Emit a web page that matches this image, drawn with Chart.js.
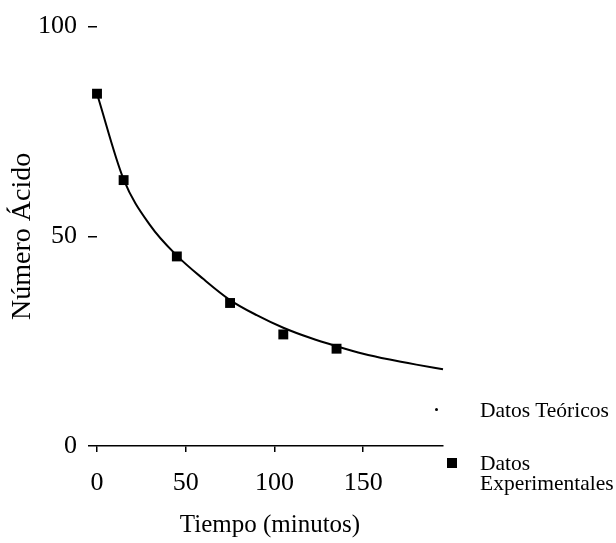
<!DOCTYPE html>
<html>
<head>
<meta charset="utf-8">
<script src="https://cdn.jsdelivr.net/npm/chart.js@4/dist/chart.umd.min.js"></script>
<style>
  html, body { margin: 0; padding: 0; background: #fff; }
  #wrap { position: relative; width: 616px; height: 543px; }
  canvas { position: absolute; left: 0; top: 0; }
  .leg { position: absolute; font-family: "Liberation Serif", "Times New Roman", serif; font-size: 21.5px; color: #000; line-height: 20px; white-space: nowrap; }
  .dot { position: absolute; width: 3px; height: 3px; background: #000; border-radius: 50%; }
  .sq { position: absolute; width: 10px; height: 10px; background: #000; }
</style>
</head>
<body>
<div id="wrap">
  <canvas id="c" width="616" height="543"></canvas>
  <div class="dot" style="left:435px; top:408px;"></div>
  <div class="leg" style="left:480px; top:400px;">Datos Teóricos</div>
  <div class="sq" style="left:447px; top:458px;"></div>
  <div class="leg" style="left:480px; top:453px;">Datos<br>Experimentales</div>
</div>
<script>
const expTime = [0, 15, 45, 75, 105, 135];
const expAcid = [84.0, 63.4, 45.2, 34.1, 26.6, 23.2];

// Theoretical curve
const theoTime = [0, 15, 30, 45, 60, 75, 90, 105, 120, 135, 150, 165, 180, 195];
const theoAcid = [84.0, 63.6, 52.6, 45.4, 39.8, 34.8, 31.2, 28.2, 25.8, 23.8, 22.0, 20.6, 19.4, 18.3];

const xTickValues = [0, 50, 100, 150];
const yTickValues = [0, 50, 100];

const serif = "'Liberation Serif', 'Times New Roman', serif";

new Chart(document.getElementById('c'), {
  type: 'scatter',
  data: {
    datasets: [
      {
        label: 'Datos Teóricos',
        data: theoTime.map((t, i) => ({ x: t, y: theoAcid[i] })),
        showLine: true,
        borderColor: '#000',
        borderWidth: 2,
        pointRadius: 0,
        cubicInterpolationMode: 'monotone',
        clip: false,
        fill: false
      },
      {
        label: 'Datos Experimentales',
        data: expTime.map((t, i) => ({ x: t, y: expAcid[i] })),
        showLine: false,
        pointStyle: 'rect',
        pointRadius: 7,
        backgroundColor: '#000',
        borderColor: '#000',
        borderWidth: 0,
        clip: false
      }
    ]
  },
  options: {
    responsive: false,
    animation: false,
    layout: { padding: { left: 0, right: 173, top: 21, bottom: 0 } },
    plugins: { legend: { display: false }, tooltip: { enabled: false } },
    scales: {
      x: {
        type: 'linear',
        min: 0,
        max: 195,
        afterBuildTicks: (s) => { s.ticks = xTickValues.map(v => ({ value: v })); },
        afterFit: (s) => { s.height = 97; },
        border: { display: true, color: '#000', width: 1.5 },
        grid: { drawOnChartArea: false, drawTicks: true, tickLength: 6, color: '#000', lineWidth: 1.5 },
        ticks: { color: '#000', font: { family: serif, size: 26 }, padding: 16, maxRotation: 0 },
        title: { display: true, text: 'Tiempo (minutos)', color: '#000', font: { family: serif, size: 25 }, padding: { top: 6, bottom: 3 } }
      },
      y: {
        type: 'linear',
        min: 0,
        max: 100,
        afterBuildTicks: (s) => { s.ticks = yTickValues.map(v => ({ value: v })); },
        afterFit: (s) => { s.width = 97; },
        border: { display: false },
        grid: { drawOnChartArea: false, drawTicks: true, tickLength: 9, color: '#000', lineWidth: 1.5 },
        ticks: { color: '#000', font: { family: serif, size: 26 }, padding: 11 },
        title: { display: true, text: 'Número Ácido', color: '#000', font: { family: serif, size: 28 }, padding: { top: 6, bottom: 0 } }
      }
    }
  }
});
</script>
</body>
</html>
